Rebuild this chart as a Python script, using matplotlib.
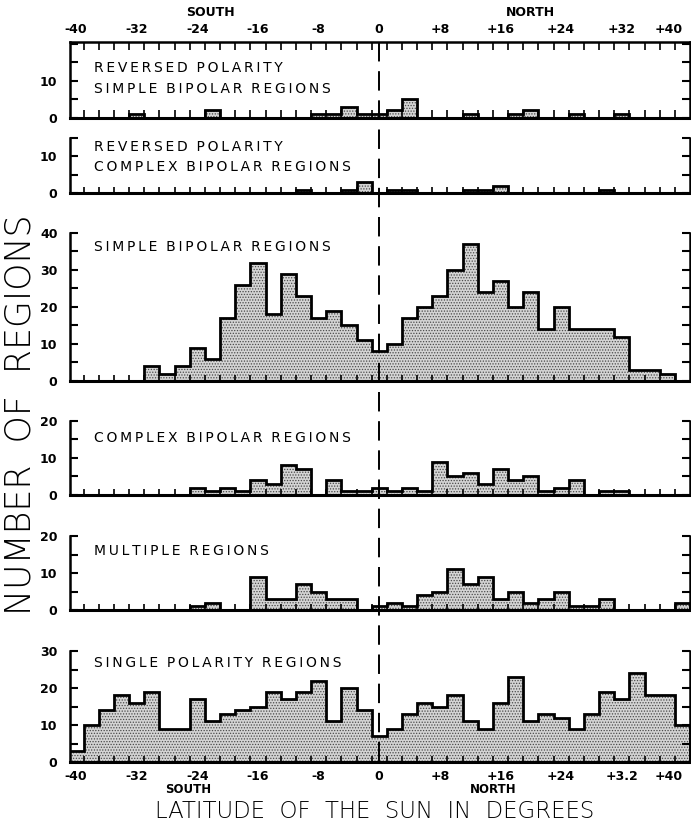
import numpy as np
import matplotlib
matplotlib.use("Agg")
import matplotlib.pyplot as plt
from matplotlib.transforms import blended_transform_factory
from matplotlib.lines import Line2D

# ---------------- data (2-degree latitude bins, centres -40 ... +40) ----------------
lat_centers = list(range(-40, 42, 2))

rev_simple = ([0, 0, 0, 0, 1, 0, 0, 0, 0, 2, 0, 0, 0, 0, 0, 0, 1, 1, 3, 1]
              + [1]
              + [2, 5, 0, 0, 0, 1, 0, 0, 1, 2, 0, 0, 1, 0, 0, 1, 0, 0, 0, 0])
rev_complex = ([0, 0, 0, 0, 0, 0, 0, 0, 0, 0, 0, 0, 0, 0, 0, 1, 0, 0, 1, 3]
               + [0]
               + [1, 1, 0, 0, 0, 1, 1, 2, 0, 0, 0, 0, 0, 0, 1, 0, 0, 0, 0, 0])
simple_bipolar = ([0, 0, 0, 0, 0, 4, 2, 4, 9, 6, 17, 26, 32, 18, 29, 23, 17, 19, 15, 11]
                  + [8]
                  + [10, 17, 20, 23, 30, 37, 24, 27, 20, 24, 14, 20, 14, 14, 14, 12, 3, 3, 2, 0])
complex_bipolar = ([0, 0, 0, 0, 0, 0, 0, 0, 2, 1, 2, 1, 4, 3, 8, 7, 0, 4, 1, 1]
                   + [2]
                   + [1, 2, 1, 9, 5, 6, 3, 7, 4, 5, 1, 2, 4, 0, 1, 1, 0, 0, 0, 0])
multiple = ([0, 0, 0, 0, 0, 0, 0, 0, 1, 2, 0, 0, 9, 3, 3, 7, 5, 3, 3, 0]
            + [1]
            + [2, 1, 4, 5, 11, 7, 9, 3, 5, 2, 3, 5, 1, 1, 3, 0, 0, 0, 0, 2])
single_polarity = ([3, 10, 14, 18, 16, 19, 9, 9, 17, 11, 13, 14, 15, 19, 17, 19, 22, 11, 20, 14]
                   + [7]
                   + [9, 13, 16, 15, 18, 11, 9, 16, 23, 11, 13, 12, 9, 13, 19, 17, 24, 18, 18, 10])

top_tick_pos = [-40, -32, -24, -16, -8, 0, 8, 16, 24, 32, 40]
top_tick_labels = ["-40", "-32", "-24", "-16", "-8", "0", "+8", "+16", "+24", "+32", "+40"]
bottom_tick_labels = ["-40", "-32", "-24", "-16", "-8", "0", "+8", "+16", "+24", "+3.2", "+40"]

panel_titles = [
    ["REVERSED POLARITY", "SIMPLE BIPOLAR REGIONS"],
    ["REVERSED POLARITY", "COMPLEX BIPOLAR REGIONS"],
    ["SIMPLE BIPOLAR REGIONS"],
    ["COMPLEX BIPOLAR REGIONS"],
    ["MULTIPLE REGIONS"],
    ["SINGLE POLARITY REGIONS"],
]
panel_values = [rev_simple, rev_complex, simple_bipolar, complex_bipolar, multiple, single_polarity]
panel_ylabels = [[0, 10], [0, 10], [0, 10, 20, 30, 40], [0, 10, 20], [0, 10, 20], [0, 10, 20, 30]]


def spaced(s):
    # emulate the wide letter spacing of stencil lettering
    words = s.split(" ")
    return "  ".join("\u2009".join(w) for w in words)


# ---------------- layout ----------------
W, H = 691, 822
plt.rcParams["font.family"] = ["DejaVu Sans"]
plt.rcParams["hatch.color"] = "#4a4a4a"
plt.rcParams["hatch.linewidth"] = 0.6
fig = plt.figure(figsize=(W / 100, H / 100), dpi=100)

px_per_unit = 3.7
panel_geom = [(117.7, 20.5), (193.3, 15.0), (381.0, 40.0), (495.0, 20.0), (610.0, 20.0), (762.0, 30.0)]
title_rows = [[68, 89], [147, 167], [247], [438], [551], [663]]

x_left_px, x_right_px = 70.0, 690.0
xlim = (-40.8, 41.0)
edges = np.arange(-41, 42, 2)
odd_ticks = np.arange(-39, 40, 2)

axes = []
for i, (vals, (zero_px, ymax), labs) in enumerate(zip(panel_values, panel_geom, panel_ylabels)):
    h_px = ymax * px_per_unit
    ax = fig.add_axes([x_left_px / W, 1 - zero_px / H, (x_right_px - x_left_px) / W, h_px / H])
    ax.set_xlim(*xlim)
    ax.set_ylim(0, ymax)
    ax.bar(lat_centers, vals, width=2.0, color="#d4d4d4", hatch="......", linewidth=0, zorder=1)
    ax.stairs(vals, edges, color="black", linewidth=2.0, zorder=3)
    for s in ["left", "right", "bottom", "top"]:
        ax.spines[s].set_linewidth(1.8)
    ax.spines["bottom"].set_linewidth(2.2)
    if i != 0:
        ax.spines["top"].set_visible(False)
    ax.patch.set_alpha(0)

    yt = np.arange(0, ymax + 0.01, 5)
    ax.set_yticks(yt)
    ax.set_yticklabels([str(int(v)) if int(v) in labs else "" for v in yt])
    ax.tick_params(axis="y", which="major", direction="in", left=True, right=True,
                   length=6, width=1.5, labelsize=9, pad=9)
    for t in ax.get_yticklabels():
        t.set_fontweight("bold")

    ax.set_xticks(odd_ticks)
    ax.set_xticklabels([])
    ax.tick_params(axis="x", which="major", direction="in", bottom=True, top=(i == 0),
                   length=4, width=1.2)
    ax.set_xticks(top_tick_pos, minor=True)
    if i == 0:
        ax.set_xticklabels(top_tick_labels, minor=True)
        ax.tick_params(axis="x", which="major", top=True, length=6)
        ax.tick_params(axis="x", which="minor", length=0, top=True, bottom=False,
                       labeltop=True, labelbottom=False, labelsize=9, pad=4)
        for t in ax.get_xticklabels(minor=True):
            t.set_fontweight("bold")
        ax.get_xticklabels(minor=True)[-1].set_horizontalalignment("right")
    elif i == 5:
        ax.set_xticklabels(bottom_tick_labels, minor=True)
        ax.tick_params(axis="x", which="minor", length=0, bottom=True,
                       labelbottom=True, labelsize=9, pad=6)
        for t in ax.get_xticklabels(minor=True):
            t.set_fontweight("bold")
        ax.get_xticklabels(minor=True)[-1].set_horizontalalignment("right")
    else:
        ax.tick_params(axis="x", which="minor", length=0, labelbottom=False)

    for txt, row in zip(panel_titles[i], title_rows[i]):
        fig.text(94 / W, 1 - row / H, spaced(txt), fontsize=10, va="center", ha="left")
    axes.append(ax)

trans = blended_transform_factory(axes[0].transData, fig.transFigure)
fig.add_artist(Line2D([0, 0], [1 - 42 / H, 1 - 764 / H], transform=trans, color="black",
                      linewidth=1.4, linestyle=(0, (10, 5))))

fig.text(210 / W, 1 - 13 / H, "SOUTH", fontsize=9, ha="center", va="center", fontweight="bold")
fig.text(530 / W, 1 - 13 / H, "NORTH", fontsize=9, ha="center", va="center", fontweight="bold")
fig.text(188 / W, 1 - 789 / H, "SOUTH", fontsize=8.5, ha="center", va="center", fontweight="bold")
fig.text(493 / W, 1 - 789 / H, "NORTH", fontsize=8.5, ha="center", va="center", fontweight="bold")

fig.text(21 / W, 1 - 415 / H, "NUMBER  OF  REGIONS", rotation=90, fontsize=25,
         fontweight="light", ha="center", va="center")
fig.text(375 / W, 1 - 811 / H, "LATITUDE  OF  THE  SUN  IN  DEGREES", fontsize=16.5,
         fontweight="light", ha="center", va="center")

fig.savefig("out.png", dpi=100)
